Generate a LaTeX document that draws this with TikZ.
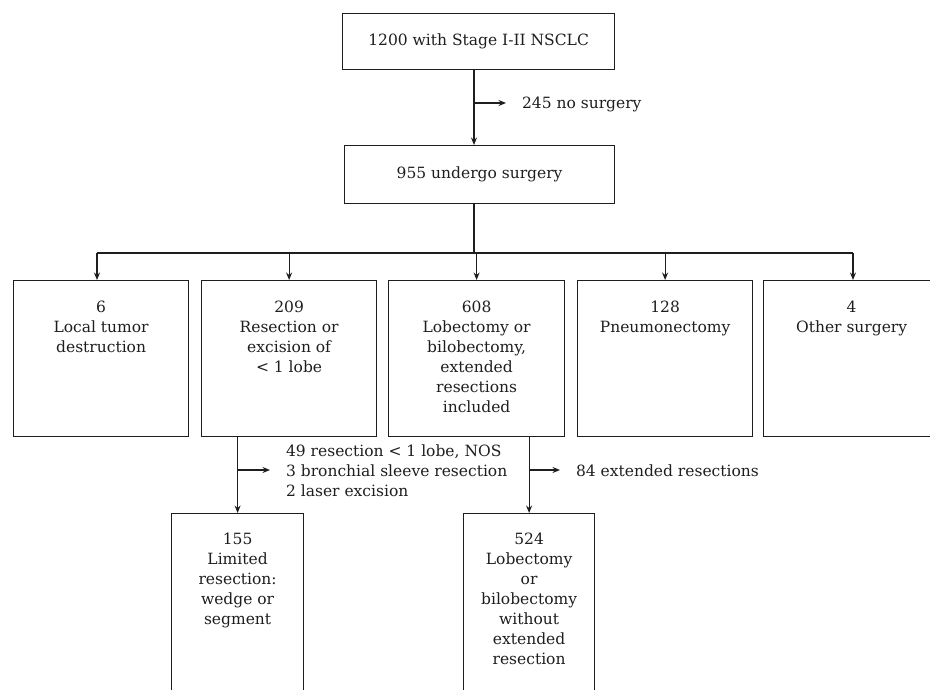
\documentclass[tikz,border=0pt]{standalone}
\usepackage{fontspec}
\setmainfont{DejaVu Serif}
\usetikzlibrary{arrows.meta,calc}
\definecolor{ink}{RGB}{30,30,30}
\begin{document}
\begin{tikzpicture}[x=1pt,y=-1pt,
  line width=1.2pt, draw=ink,
  box/.style={draw=ink, rectangle, inner sep=0pt, anchor=north west},
  txt/.style={inner sep=0pt, align=center, text=ink, font=\fontsize{15.5}{20}\selectfont},
  side/.style={inner ysep=0pt, inner xsep=15.5pt, align=left, text=ink, font=\fontsize{15.5}{20}\selectfont},
  arr/.style={draw=ink, -{Stealth[length=7.5pt,width=6pt,inset=2.5pt]}}]
\useasboundingbox (0,0) rectangle (930,690);
\clip (0,0) rectangle (930,690);
% top boxes
\node[box, minimum width=272pt, minimum height=56pt] (top) at (342,13) {};
\node[txt] (toptxt) at (top.center) {1200 with Stage I-II NSCLC};
\node[box, minimum width=270pt, minimum height=58pt] (mid) at (344,145) {};
\node[txt] (midtxt) at (mid.center) {955 undergo surgery};
\coordinate (tx) at (474,0);
\draw[arr] (top.south -| tx) -- (mid.north -| tx);
\coordinate (b1) at (474,103);
\node[side, anchor=base west] (ns) at (506,109) {245 no surgery};
\draw[arr] (b1) -- (b1 -| ns.west);
% row boxes
\node[box, minimum width=175pt, minimum height=156pt] (r1) at (13,280) {};
\node[box, minimum width=175pt, minimum height=156pt] (r2) at (201,280) {};
\node[box, minimum width=176pt, minimum height=156pt] (r3) at (388,280) {};
\node[box, minimum width=175pt, minimum height=156pt] (r4) at (577,280) {};
\node[box, minimum width=176pt, minimum height=156pt] (r5) at (763,280) {};
\node[txt, anchor=north] (t1) at ([yshift=-20pt]r1.north) {6\\Local tumor\\destruction};
\node[txt, anchor=north] (t2) at ([yshift=-20pt]r2.north) {209\\Resection or\\excision of\\< 1 lobe};
\node[txt, anchor=north] (t3) at ([yshift=-20pt]r3.north) {608\\Lobectomy or\\bilobectomy,\\extended\\resections\\included};
\node[txt, anchor=north] (t4) at ([yshift=-20pt]r4.north) {128\\Pneumonectomy};
\node[txt, anchor=north] (t5) at ([yshift=-20pt]r5.north) {4\\Other surgery};
% distribution
\coordinate (hl) at (97,253);
\coordinate (hr) at (853,253);
\draw (mid.south -| tx) -- (hl -| tx);
\draw (hl) -- (hr);
\draw[arr] (hl) -- (hl |- r1.north);
\draw[arr] (hl -| r2.north) -- (r2.north);
\draw[arr] (hl -| r3.north) -- (r3.north);
\draw[arr] (hl -| r4.north) -- (r4.north);
\draw[arr] (hr) -- (hr |- r5.north);
% bottom boxes
\node[box, minimum width=132pt, minimum height=200pt] (lb) at (171,513) {};
\node[box, minimum width=131pt, minimum height=200pt] (rb) at (463,513) {};
\node[txt, anchor=north] (lbt) at ([yshift=-19pt]lb.north) {155\\Limited\\resection:\\wedge or\\segment};
\node[txt, anchor=north] (rbt) at ([yshift=-19pt]rb.north) {524\\Lobectomy\\or\\bilobectomy\\without\\extended\\resection};
\draw[arr] (r2.south -| lb.north) -- (lb.north);
\draw[arr] (r3.south -| rb.north) -- (rb.north);
\coordinate (b2) at (lb.north |- 0,470);
\coordinate (b3) at (rb.north |- 0,470);
\node[side, anchor=north west] (nos) at (270,444.5) {49 resection < 1 lobe, NOS\\3 bronchial sleeve resection\\2 laser excision};
\draw[arr] (b2) -- (b2 -| nos.west);
\node[side, anchor=base west] (ext) at (560,476.7) {84 extended resections};
\draw[arr] (b3) -- (b3 -| ext.west);
\end{tikzpicture}
\end{document}
